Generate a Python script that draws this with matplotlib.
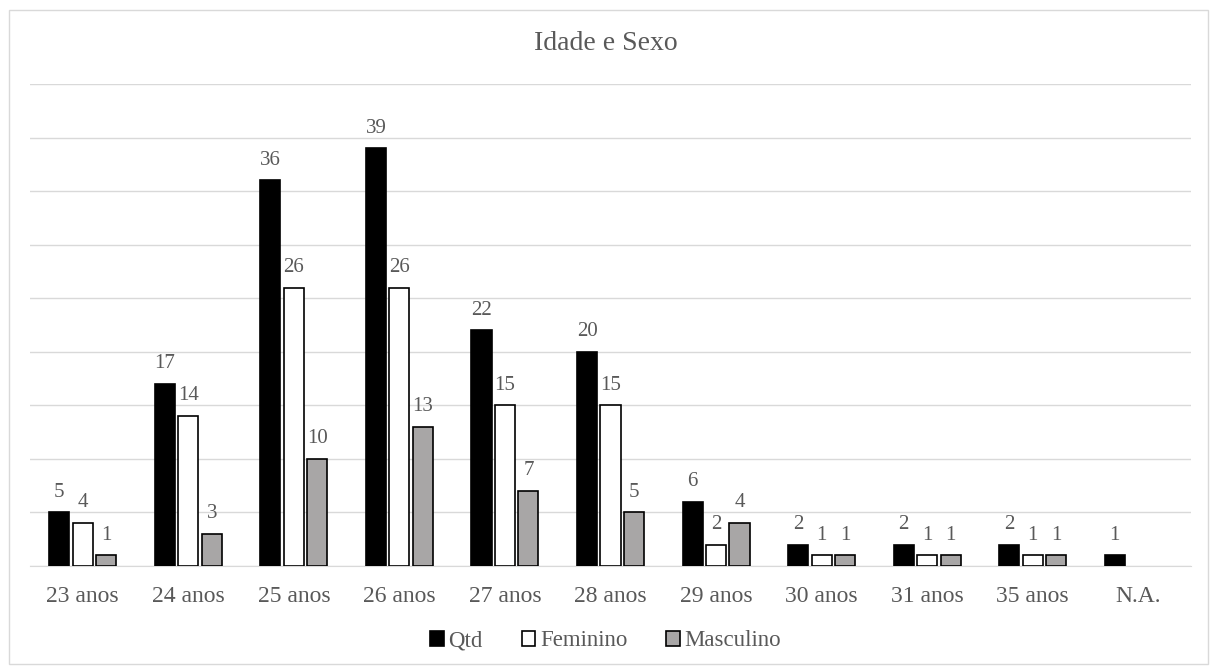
import matplotlib.pyplot as plt
import matplotlib.patches as mpatches
import numpy as np

categories = ['23 anos', '24 anos', '25 anos', '26 anos', '27 anos', '28 anos',
              '29 anos', '30 anos', '31 anos', '35 anos', 'N.A.']
qtd = [5, 17, 36, 39, 22, 20, 6, 2, 2, 2, 1]
feminino = [4, 14, 26, 26, 15, 15, 2, 1, 1, 1, None]
masculino = [1, 3, 10, 13, 7, 5, 4, 1, 1, 1, None]

plt.rcParams['font.family'] = ['Liberation Serif', 'DejaVu Serif']
text_color = '#595959'

fig = plt.figure(figsize=(12.11, 6.67), dpi=100)
ax = fig.add_axes([30 / 1211, 1 - 566 / 667, 1161 / 1211, (566 - 84) / 667])

# chart frame
fig.patches.append(mpatches.Rectangle((9 / 1211, 3 / 667), 1199 / 1211, 654 / 667,
                                      transform=fig.transFigure, fill=False,
                                      edgecolor='#d9d9d9', linewidth=1))

x = np.arange(len(categories))
w = 0.19
step = 0.222
series = [
    ('Qtd', qtd, 'black'),
    ('Feminino', feminino, 'white'),
    ('Masculino', masculino, '#a8a6a6'),
]
for i, (name, vals, color) in enumerate(series):
    xs = [xi + (i - 1) * step for xi, v in zip(x, vals) if v is not None]
    vs = [v for v in vals if v is not None]
    bars = ax.bar(xs, vs, width=w, color=color, edgecolor='black',
                  linewidth=1.2, label=name, zorder=3)
    for b, v in zip(bars, vs):
        ax.text(b.get_x() + b.get_width() / 2, v + 1.0, str(v), ha='center',
                va='bottom', fontsize=15, color=text_color)

ax.set_xlim(-0.5, len(categories) - 0.5)
ax.set_ylim(0, 45)
ax.set_yticks(np.arange(0, 46, 5))
ax.yaxis.grid(True, color='#d9d9d9', linewidth=1)
ax.set_axisbelow(True)
ax.tick_params(axis='y', left=False, labelleft=False)
ax.tick_params(axis='x', bottom=False, labelsize=17, labelcolor=text_color, pad=11)
ax.set_xticks(x)
ax.set_xticklabels(categories)
for s in ['top', 'right', 'left']:
    ax.spines[s].set_visible(False)
ax.spines['bottom'].set_color('#d9d9d9')

fig.text(0.5, 1 - 43 / 667, 'Idade e Sexo', ha='center', va='center',
         fontsize=20, color=text_color)

fig.legend(loc='center', bbox_to_anchor=(0.5, 1 - 641 / 667), ncol=3, frameon=False,
           fontsize=16.5, labelcolor=text_color, handlelength=0.6, handleheight=0.6,
           handletextpad=0.2, columnspacing=1.7)

fig.savefig('out.png', dpi=100)
